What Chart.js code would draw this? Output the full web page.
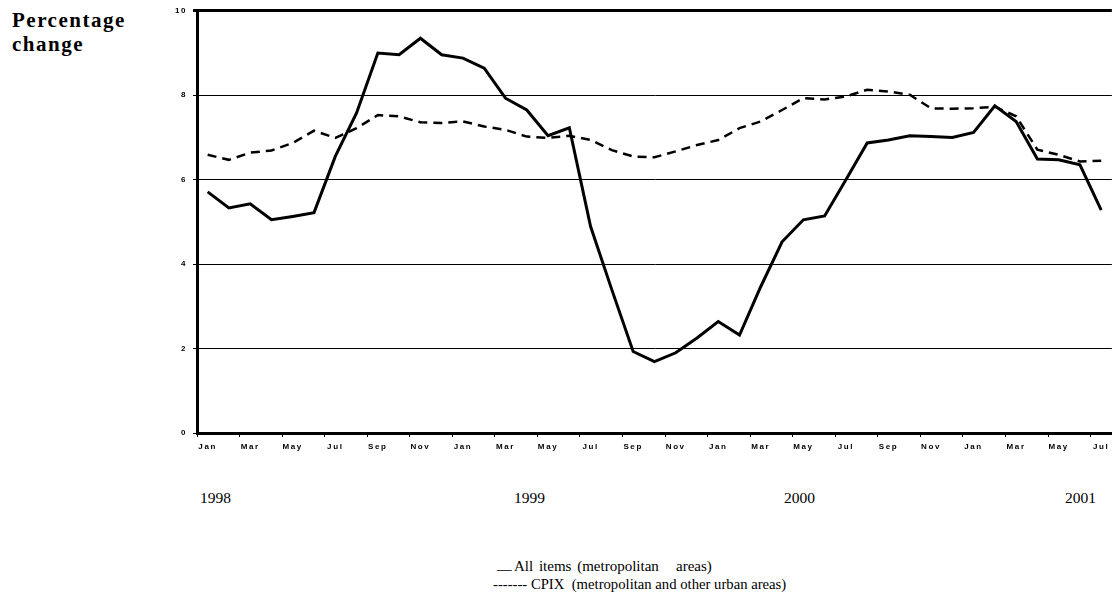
<!DOCTYPE html>
<html>
<head>
<meta charset="utf-8">
<script src="https://cdn.jsdelivr.net/npm/chart.js@4/dist/chart.umd.min.js"></script>
<style>
  body { margin: 0; background: #fff; width: 1112px; height: 607px; overflow: hidden; position: relative; }
  #wrap { position: absolute; left: 0; top: 0; width: 1112px; height: 460px; }
  .title { position: absolute; left: 12px; top: 8px; font: bold 21px "Liberation Serif", serif; letter-spacing: 1.5px; line-height: 24px; color: #000; }
  .year { position: absolute; top: 489px; font: 15.5px "Liberation Serif", serif; color: #000; }
  .leg { position: absolute; font: 14.7px "Liberation Serif", serif; color: #000; white-space: pre; }
</style>
</head>
<body>
<div class="title">Percentage<br>change</div>
<div id="wrap"><canvas id="cpiChart"></canvas></div>
<div class="year" style="left:200px">1998</div>
<div class="year" style="left:514px">1999</div>
<div class="year" style="left:784px">2000</div>
<div class="year" style="left:1065px">2001</div>
<div class="leg" style="left:497px; top:556px">__</div>
<div class="leg" style="left:514px; top:558px; font-size:15px; word-spacing:2px">All items (metropolitan   areas)</div>
<div class="leg" style="left:493px; top:576px">------- CPIX  (metropolitan and other urban areas)</div>
<script>
// monthly, Jan 1998 .. Jul 2001
const monthNames = ["Jan", "Feb", "Mar", "Apr", "May", "Jun", "Jul", "Aug", "Sep", "Oct", "Nov", "Dec"];
const months = [];
for (let i = 0; i < 43; i++) months.push(monthNames[i % 12]);

const allItems = [
  5.71, 5.33, 5.43, 5.05, 5.13, 5.22, 6.55, 7.58, 9.0, 8.96, 9.35, 8.96,
  8.88, 8.64, 7.93, 7.65, 7.04, 7.23, 4.89, 3.39, 1.93, 1.69, 1.9, 2.25,
  2.64, 2.32, 3.47, 4.53, 5.05, 5.14, 6.0, 6.87, 6.94, 7.04, 7.02, 7.0,
  7.12, 7.75, 7.38, 6.49, 6.47, 6.35, 5.28
];

const cpix = [
  6.59, 6.47, 6.64, 6.69, 6.87, 7.16, 6.99, 7.22, 7.53, 7.5, 7.36, 7.34,
  7.38, 7.26, 7.18, 7.02, 6.99, 7.04, 6.94, 6.7, 6.55, 6.53, 6.67, 6.82,
  6.94, 7.22, 7.38, 7.65, 7.93, 7.9, 7.97, 8.13, 8.09, 8.01, 7.69, 7.68,
  7.69, 7.73, 7.5, 6.71, 6.59, 6.43, 6.45
];

const yTicks = [0, 2, 4, 6, 8, 10];

const tickFont = { family: "Liberation Sans, Arial, sans-serif", size: 8, weight: "bold" };

// the printed tick labels are spaced out a bit
const spacedText = {
  id: "spacedText",
  beforeDraw(chart) {
    chart.ctx.letterSpacing = "1.6px";
  }
};

new Chart(document.getElementById("cpiChart"), {
  type: "line",
  data: {
    labels: months,
    datasets: [
      {
        label: "All items (metropolitan areas)",
        data: allItems,
        borderColor: "#000",
        borderWidth: 3,
        pointRadius: 0,
        tension: 0
      },
      {
        label: "CPIX (metropolitan and other urban areas)",
        data: cpix,
        borderColor: "#000",
        borderWidth: 2.5,
        borderDash: [9, 6],
        pointRadius: 0,
        tension: 0
      }
    ]
  },
  plugins: [spacedText],
  options: {
    responsive: true,
    maintainAspectRatio: false,
    animation: false,
    layout: { padding: { left: 0, right: 0, top: 10, bottom: 0 } },
    plugins: { legend: { display: false }, tooltip: { enabled: false } },
    scales: {
      x: {
        type: "category",
        offset: true,
        afterFit: s => { s.height = 27; },
        border: { display: true, color: "#000", width: 3 },
        grid: {
          offset: true,
          drawOnChartArea: false,
          tickLength: 4,
          color: c => (c.index % 2 === 0 ? "#000" : "rgba(0,0,0,0)")
        },
        ticks: {
          autoSkip: false,
          maxRotation: 0,
          padding: 5,
          color: "#000",
          font: tickFont,
          callback: (v, i) => (i % 2 === 0 ? months[i] : "")
        }
      },
      y: {
        min: 0,
        max: 10,
        afterFit: s => { s.width = 197; },
        afterBuildTicks: s => { s.ticks = yTicks.map(v => ({ value: v })); },
        border: { display: true, color: "#000", width: 3 },
        grid: {
          color: "#000",
          lineWidth: c => (c.tick && c.tick.value === 10 ? 3 : 1),
          tickLength: 4
        },
        ticks: {
          padding: 6,
          color: "#000",
          font: tickFont
        }
      }
    }
  }
});
</script>
</body>
</html>
